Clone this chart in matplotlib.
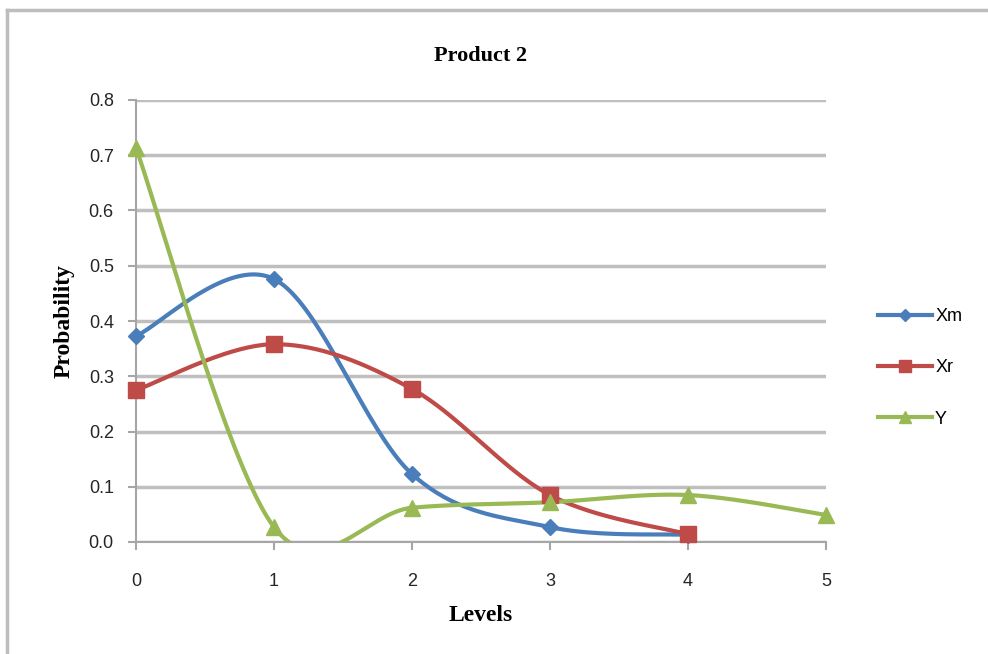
import numpy as np
import matplotlib.pyplot as plt
from matplotlib.lines import Line2D

levels = [0, 1, 2, 3, 4, 5]
xm = [0.373, 0.476, 0.123, 0.027, 0.013]
xr = [0.275, 0.358, 0.277, 0.085, 0.014]
y_vals = [0.713, 0.027, 0.062, 0.072, 0.085, 0.049]
series_names = ["Xm", "Xr", "Y"]
colors = ["#4A7EBB", "#BE4B48", "#98B954"]
markers = ["D", "s", "^"]
msizes = [8, 11, 11]


def smooth(x, y, n=40):
    # excel-style smoothed line: catmull-rom as cubic bezier segments
    p = np.column_stack([x, y]).astype(float)
    pp = np.vstack([p[0], p, p[-1]])
    out = []
    t = np.linspace(0, 1, n)[:, None]
    for i in range(len(p) - 1):
        p0, p1, p2, p3 = pp[i], pp[i + 1], pp[i + 2], pp[i + 3]
        b1 = p1 + (p2 - p0) / 6
        b2 = p2 - (p3 - p1) / 6
        seg = ((1 - t) ** 3) * p1 + 3 * ((1 - t) ** 2) * t * b1 + 3 * (1 - t) * t ** 2 * b2 + t ** 3 * p2
        out.append(seg if i == 0 else seg[1:])
    s = np.vstack(out)
    return s[:, 0], s[:, 1]


fig = plt.figure(figsize=(9.88, 6.54), dpi=100)
ax = fig.add_axes([136 / 988, 1 - 542 / 654, 690 / 988, 442 / 654])

# chart border (only top and left visible)
fig.add_artist(Line2D([7 / 988, 1], [1 - 10 / 654, 1 - 10 / 654], color="#BDBDBD", lw=2.5, transform=fig.transFigure))
fig.add_artist(Line2D([7 / 988, 7 / 988], [0, 1 - 10 / 654], color="#BDBDBD", lw=2.5, transform=fig.transFigure))

data = [xm, xr, y_vals]
handles = []
for vals, name, c, m, ms in zip(data, series_names, colors, markers, msizes):
    xs = levels[:len(vals)]
    sx, sy = smooth(xs, vals)
    ax.plot(sx, sy, color=c, lw=3, zorder=3)
    ax.plot(xs, vals, ls="none", marker=m, color=c, ms=ms, zorder=4, clip_on=False)
    handles.append(Line2D([], [], color=c, lw=3, marker=m, ms=ms * 0.8))

ax.set_xlim(0, 5)
ax.set_ylim(0, 0.8)
ax.set_xticks(levels)
ax.set_yticks(np.arange(0, 0.81, 0.1))
ax.set_yticklabels([f"{v:.1f}" for v in np.arange(0, 0.81, 0.1)])
ax.yaxis.grid(True, color="#BFBFBF", lw=2.5)
ax.set_axisbelow(True)
for s in ["top", "right"]:
    ax.spines[s].set_visible(False)
for s in ["left", "bottom"]:
    ax.spines[s].set_color("#A6A6A6")
    ax.spines[s].set_linewidth(1.5)
ax.tick_params(axis="both", colors="#A6A6A6", width=1.5, length=6, labelcolor="#262626",
               labelsize=13)
ax.tick_params(axis="x", pad=16)
ax.tick_params(axis="y", pad=10)
for lab in ax.get_xticklabels() + ax.get_yticklabels():
    lab.set_family("Liberation Sans")

serif = {"family": "Liberation Serif", "weight": "bold"}
ax.set_title("Product 2", fontsize=16, pad=28, **serif)
ax.set_xlabel("Levels", fontsize=17, labelpad=11, **serif)
ax.set_ylabel("Probability", fontsize=17, labelpad=10, **serif)

fig.legend(handles, series_names, loc="center left", bbox_to_anchor=(862 / 988, 1 - 368 / 654),
           frameon=False, handlelength=3.0, labelspacing=1.9, handletextpad=0.15,
           prop={"family": "Liberation Sans", "size": 13})

fig.savefig("out.png", dpi=100)
